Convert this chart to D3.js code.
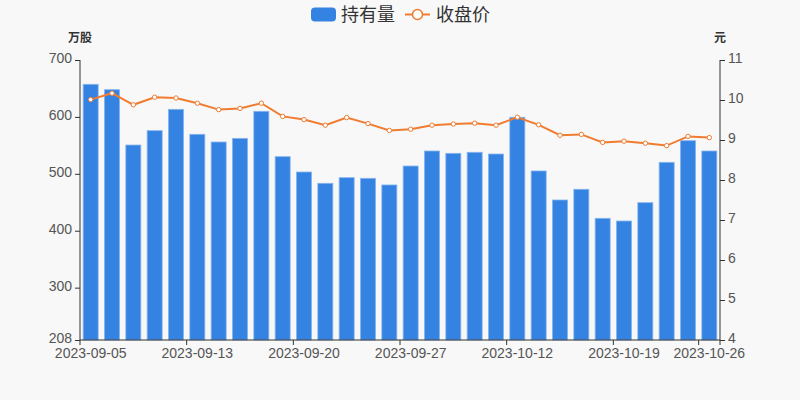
<!DOCTYPE html>
<html><head><meta charset="utf-8">
<script src="https://cdn.jsdelivr.net/npm/d3@7"></script>
<style>html,body{margin:0;padding:0;background:#f8f8f8;}svg{display:block;font-family:"Liberation Sans",Arial,sans-serif;}</style>
</head><body><svg id="c" width="800" height="400"></svg>
<script>
const dates = ["2023-09-05","2023-09-06","2023-09-07","2023-09-08","2023-09-12","2023-09-13","2023-09-14","2023-09-15","2023-09-18","2023-09-19","2023-09-20","2023-09-21","2023-09-22","2023-09-25","2023-09-26","2023-09-27","2023-09-28","2023-10-09","2023-10-10","2023-10-11","2023-10-12","2023-10-13","2023-10-16","2023-10-17","2023-10-18","2023-10-19","2023-10-20","2023-10-23","2023-10-24","2023-10-26"];
const holdings = [657.3,647.8,550.6,575.8,613.3,569.4,555.9,562.3,609.8,530.1,503.2,483.3,493.2,492.1,480.4,513.7,540.1,536.0,537.8,534.8,599.3,505.0,454.0,472.8,421.8,417.1,449.3,520.2,558.2,540.1];
const closes = [10.01,10.17,9.88,10.07,10.05,9.92,9.76,9.79,9.92,9.59,9.51,9.37,9.56,9.41,9.24,9.27,9.37,9.40,9.42,9.37,9.57,9.38,9.12,9.14,8.94,8.97,8.92,8.86,9.09,9.06];
const leftTicks = [208,300,400,500,600,700];
const rightTicks = [4,5,6,7,8,9,10,11];
const labelIdx = [0,5,10,15,20,25,29];
const seriesNames = ["持有量","收盘价"];

const svg = d3.select("#c");
const L=80,R=720,T=60,B=340;
const xb = d3.scaleBand().domain(dates).range([L,R]);
const yL = d3.scaleLinear().domain([208,700]).range([B,T]);
const yR = d3.scaleLinear().domain([4,11]).range([B,T]);
const blue="#3482e2", orange="#ef7c30";
const cx = i => xb(dates[i])+xb.bandwidth()/2;

// bars
svg.append("g").selectAll("rect").data(holdings).join("rect")
  .attr("x",(d,i)=>cx(i)-7.5)
  .attr("width",15)
  .attr("y",d=>yL(d)).attr("height",d=>B-yL(d))
  .attr("fill",blue).attr("stroke","#86b4ef").attr("stroke-width",0.8);

// line
const line = d3.line().x((d,i)=>cx(i)).y(d=>yR(d));
svg.append("path").datum(closes).attr("d",line).attr("fill","none").attr("stroke",orange).attr("stroke-width",2);
svg.append("g").selectAll("circle").data(closes).join("circle")
  .attr("cx",(d,i)=>cx(i)).attr("cy",d=>yR(d)).attr("r",2.2)
  .attr("fill","#fff").attr("stroke",orange).attr("stroke-width",1);

// left axis
const gl = svg.append("g").attr("transform",`translate(${L},0)`)
  .call(d3.axisLeft(yL).tickValues(leftTicks).tickSize(5).tickPadding(3));
// right axis
const gr = svg.append("g").attr("transform",`translate(${R},0)`)
  .call(d3.axisRight(yR).tickValues(rightTicks).tickFormat(d3.format("d")).tickSize(5).tickPadding(3));
[gl,gr].forEach(g=>{g.select(".domain").remove(); g.selectAll(".tick text").attr("dy","0.2em");});
gl.append("line").attr("x1",0).attr("x2",0).attr("y1",T).attr("y2",B);
gr.append("line").attr("x1",0).attr("x2",0).attr("y1",T).attr("y2",B);
// bottom axis
const xt = d3.scalePoint().domain(d3.range(31)).range([L,R]);
const gb = svg.append("g").attr("transform",`translate(0,${B})`);
gb.append("line").attr("x1",L).attr("x2",R).attr("y1",0).attr("y2",0);
gb.selectAll("line.t").data(labelIdx.concat([30])).join("line").attr("class","t")
  .attr("x1",d=>xt(d)).attr("x2",d=>xt(d)).attr("y1",0).attr("y2",5);
gb.selectAll("text").data(labelIdx).join("text")
  .attr("x",d=>cx(d)).attr("y",17.5)
  .attr("text-anchor","middle").text(d=>dates[d]);
svg.selectAll("line").attr("stroke","#333").attr("stroke-width",1);
svg.selectAll("g text").attr("font-size",14).attr("fill","#555").attr("font-family","\"Liberation Sans\",Arial,sans-serif");

// axis names
svg.append("text").attr("x",L).attr("y",42).attr("text-anchor","middle").attr("font-size",12).attr("font-weight","bold").attr("fill","#333").attr("font-family","\"Noto Sans CJK SC\",sans-serif").text("万股");
svg.append("text").attr("x",R).attr("y",42).attr("text-anchor","middle").attr("font-size",12).attr("font-weight","bold").attr("fill","#333").attr("font-family","\"Noto Sans CJK SC\",sans-serif").text("元");

// legend
const lg = svg.append("g");
lg.append("rect").attr("x",311).attr("y",7.5).attr("width",25).attr("height",14).attr("rx",4).attr("fill",blue);
lg.append("text").attr("x",341).attr("y",21).attr("font-size",18).attr("fill","#333").attr("font-family","\"Noto Sans CJK SC\",sans-serif").text(seriesNames[0]);
lg.append("line").attr("x1",405).attr("x2",430).attr("y1",14.5).attr("y2",14.5).attr("stroke",orange).attr("stroke-width",2);
lg.append("circle").attr("cx",417.5).attr("cy",14.5).attr("r",5).attr("fill","#fff").attr("stroke",orange).attr("stroke-width",1.5);
lg.append("text").attr("x",436).attr("y",21).attr("font-size",18).attr("fill","#333").attr("font-family","\"Noto Sans CJK SC\",sans-serif").text(seriesNames[1]);
</script></body></html>
